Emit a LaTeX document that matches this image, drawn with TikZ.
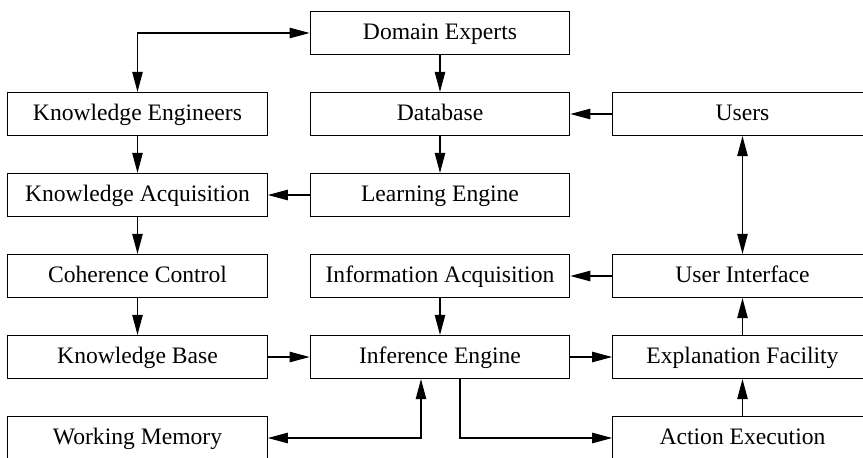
\documentclass[tikz,border=0pt]{standalone}
\usepackage{fontspec}
\setmainfont{Liberation Serif}
\usetikzlibrary{matrix,arrows.meta}

\begin{document}
\begin{tikzpicture}[>={Triangle[length=10pt,width=5.2pt]}, line width=0.6pt,
  box/.style={draw, rectangle, minimum width=129.75pt, minimum height=21.5pt,
    text height=8.5pt, text depth=2.5pt, inner sep=0pt,
    font=\fontsize{11.8}{14}\selectfont}]
 \matrix (m) [matrix of nodes, row sep=18.4pt, column sep=20.9pt, nodes={box}]
  {
                          & Domain Experts          &                      \\
    Knowledge Engineers   & Database                & Users                \\
    Knowledge Acquisition & Learning Engine         &                      \\
    Coherence Control     & Information Acquisition & User Interface       \\
    Knowledge Base        & Inference Engine        & Explanation Facility \\
    Working Memory        &                         & Action Execution     \\
  };
  \path[->]
  (m-1-2) edge (m-2-2)
  (m-2-3) edge (m-2-2)
  (m-2-2) edge (m-3-2)
  (m-3-2) edge (m-3-1)
  (m-2-1) edge (m-3-1)
  (m-3-1) edge (m-4-1)
  (m-4-1) edge (m-5-1)
  (m-5-1) edge (m-5-2)
  (m-4-3) edge (m-4-2)
  (m-4-2) edge (m-5-2)
  (m-5-2) edge (m-5-3)
  (m-5-3) edge (m-4-3)
  (m-6-3) edge (m-5-3)
  (m-2-3) edge [<->] (m-4-3)
;
  % elbow connectors
  \coordinate (ie-l) at ([xshift=-9.5pt]m-5-2.south);
  \coordinate (ie-r) at ([xshift=10pt]m-5-2.south);
  \draw[<->] (m-2-1.north) |- (m-1-2.west);
  \draw[<->] (m-6-1.east) -| (ie-l);
  \draw[->] (ie-r) |- (m-6-3.west);
  % page: right column and bottom row run off the edge
  \coordinate (tl) at (m-2-1.center |- m-1-2.center);
  \pgfresetboundingbox
  \useasboundingbox ([shift={(-68.75pt,16.5pt)}]tl) rectangle ++(431.5pt,-228.5pt);
\end{tikzpicture}
\end{document}
